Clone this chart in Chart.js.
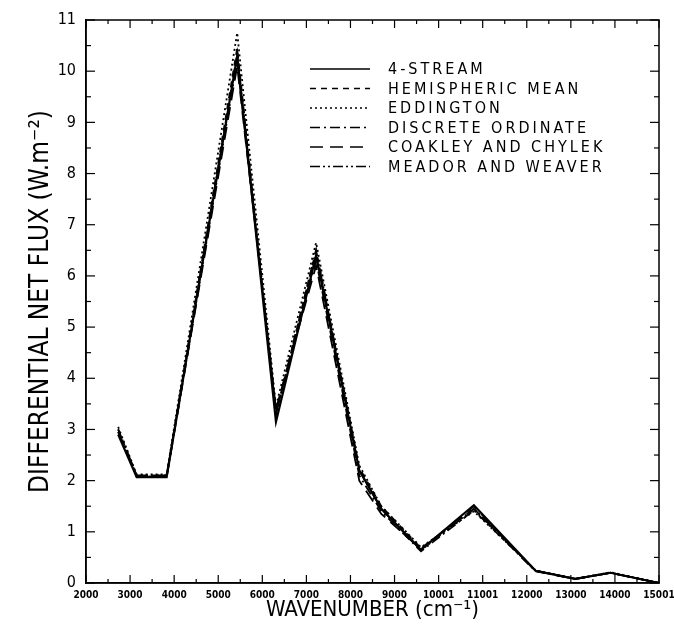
<!DOCTYPE html>
<html><head><meta charset="utf-8">
<script src="https://cdn.jsdelivr.net/npm/chart.js@4.4.1/dist/chart.umd.min.js"></script>
<style>html,body{margin:0;padding:0;background:#fff}#wrap{width:674px;height:640px;position:relative}</style>
</head><body><div id="wrap"><canvas id="c"></canvas></div>
<script>
const wavenumbers = [2730, 3150, 3830, 5430, 6310, 7220, 8200, 8700, 9600, 10800, 12200, 13100, 13900, 15000];
const fourStream       = [2.90, 2.07, 2.07, 10.30, 3.15, 6.40, 2.20, 1.45, 0.65, 1.52, 0.24, 0.08, 0.20, 0.00];
const hemisphericMean  = [3.00, 2.10, 2.10, 10.45, 3.30, 6.50, 2.25, 1.50, 0.68, 1.45, 0.24, 0.08, 0.20, 0.00];
const eddington        = [3.05, 2.12, 2.12, 10.75, 3.45, 6.65, 2.30, 1.50, 0.70, 1.40, 0.25, 0.08, 0.21, 0.00];
const discreteOrdinate = [2.95, 2.08, 2.08, 10.20, 3.35, 6.30, 2.10, 1.40, 0.62, 1.42, 0.23, 0.08, 0.20, 0.00];
const coakleyChylek    = [2.95, 2.08, 2.08, 10.10, 3.40, 6.20, 2.00, 1.35, 0.66, 1.50, 0.23, 0.08, 0.20, 0.00];
const meadorWeaver     = [3.00, 2.10, 2.10, 10.35, 3.30, 6.50, 2.20, 1.45, 0.64, 1.45, 0.24, 0.08, 0.20, 0.00];
const seriesLabels = ['4-STREAM','HEMISPHERIC MEAN','EDDINGTON','DISCRETE ORDINATE','COAKLEY AND CHYLEK','MEADOR AND WEAVER'];
const seriesValues = [fourStream, hemisphericMean, eddington, discreteOrdinate, coakleyChylek, meadorWeaver];
const seriesDashes = [[], [6,5], [2,3], [10,4,2,4], [13,7], [10,3,2,3,2,3]];
const xTickLabels = ['2000','3000','4000','5000','6000','7000','8000','9000','10001','11001','12000','13000','14000','15001'];
const yTickLabels = ['0','1','2','3','4','5','6','7','8','9','10','11'];

const FONT = '"DejaVu Sans Condensed","Liberation Sans Narrow","DejaVu Sans",sans-serif';

const datasets = seriesLabels.map((lab, k) => ({
  label: lab,
  data: wavenumbers.map((w, i) => ({x: w, y: seriesValues[k][i]})),
  borderColor: '#000',
  borderWidth: k === 0 ? 2.2 : 1.8,
  borderDash: seriesDashes[k],
  pointRadius: 0,
  tension: 0,
  fill: false
}));

const framePlugin = {
  id: 'frame',
  afterDatasetsDraw(chart) {
    const {ctx, chartArea: a, scales: {x, y}} = chart;
    const line = (x1, y1, x2, y2) => { ctx.beginPath(); ctx.moveTo(x1, y1); ctx.lineTo(x2, y2); ctx.stroke(); };
    ctx.save();
    ctx.strokeStyle = '#000';
    ctx.setLineDash([]);
    ctx.lineWidth = 1.5;
    ctx.strokeRect(a.left, a.top, a.right - a.left, a.bottom - a.top);
    ctx.lineWidth = 1.2;
    for (let v = 0; v <= 11; v += 0.5) {
      const py = y.getPixelForValue(v);
      const L = v % 1 === 0 ? 9 : 5;
      line(a.left, py, a.left + L, py);
      line(a.right, py, a.right - L, py);
    }
    for (let v = 2000; v <= 15000; v += 500) {
      const px = x.getPixelForValue(v);
      const L = v % 1000 === 0 ? 8 : 4;
      line(px, a.bottom, px, a.bottom - L);
      line(px, a.top, px, a.top + L);
    }
    // legend inside plot
    ctx.font = '16px ' + FONT;
    ctx.fillStyle = '#000';
    ctx.textBaseline = 'middle';
    ctx.textAlign = 'left';
    try { ctx.letterSpacing = '3px'; } catch (e) {}
    chart.data.datasets.forEach((ds, i) => {
      const ly = 69 + i * 19.5;
      ctx.lineWidth = 1.6;
      ctx.setLineDash(ds.borderDash || []);
      line(310, ly, 370, ly);
      ctx.setLineDash([]);
      ctx.fillText(ds.label, 388, ly + 1);
    });
    ctx.restore();
  }
};

new Chart(document.getElementById('c'), {
  type: 'line',
  data: { datasets },
  options: {
    responsive: true,
    maintainAspectRatio: false,
    animation: false,
    layout: { padding: { top: 20, right: 15, left: 0, bottom: 0 } },
    plugins: { legend: { display: false }, tooltip: { enabled: false } },
    scales: {
      x: {
        type: 'linear', min: 2000, max: 15000,
        grid: { drawOnChartArea: false, drawTicks: false },
        border: { color: '#000', width: 1.5 },
        ticks: {
          stepSize: 1000, autoSkip: false, maxRotation: 0, padding: 6, color: '#000',
          font: { family: FONT, size: 10, weight: 'bold' },
          callback: (v) => xTickLabels[Math.round((v - 2000) / 1000)]
        },
        title: { display: true, text: 'WAVENUMBER (cm⁻¹)', color: '#000',
          font: { family: FONT, size: 22 }, padding: { top: 0, bottom: 17 } },
        afterFit: (s) => { s.height = 57; s.paddingLeft = 0; s.paddingRight = 0; }
      },
      y: {
        type: 'linear', min: 0, max: 11,
        grid: { drawOnChartArea: false, drawTicks: false },
        border: { color: '#000', width: 1.5 },
        ticks: {
          stepSize: 1, padding: 10, color: '#000',
          font: { family: FONT, size: 16 },
          callback: (v) => yTickLabels[Math.round(v)]
        },
        title: { display: true, text: 'DIFFERENTIAL NET FLUX (W.m⁻²)', color: '#000',
          font: { family: FONT, size: 26 }, padding: { top: 26, bottom: 0 } },
        afterFit: (s) => { s.width = 86; }
      }
    }
  },
  plugins: [framePlugin]
});
</script></body></html>
